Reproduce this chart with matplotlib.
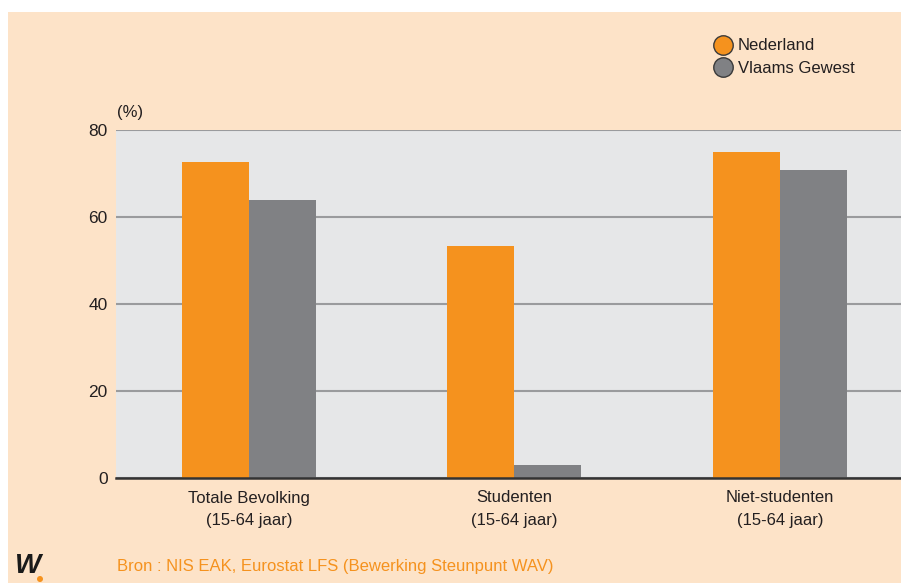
import matplotlib
matplotlib.use('Agg')
import matplotlib.pyplot as plt
from matplotlib.patches import Rectangle, Ellipse
from matplotlib.lines import Line2D
import numpy as np

plt.rcParams['font.family'] = ['Liberation Sans Narrow', 'Liberation Sans', 'DejaVu Sans']

categories = ['Totale Bevolking\n(15-64 jaar)', 'Studenten\n(15-64 jaar)', 'Niet-studenten\n(15-64 jaar)']
series_names = ['Nederland', 'Vlaams Gewest']
nederland = [72.6, 53.3, 74.9]
vlaams = [63.9, 3.0, 70.8]
yticks = [0, 20, 40, 60, 80]
source = 'Bron : NIS EAK, Eurostat LFS (Bewerking Steunpunt WAV)'

orange = '#F5921E'
grey = '#808184'
peach = '#FDE3C8'
dark = '#231F20'

fig = plt.figure(figsize=(9.01, 5.83), dpi=100)
fig.patch.set_facecolor('white')
fig.patches.append(Rectangle((8/901, 0), 1 - 8/901, 1 - 12/583, transform=fig.transFigure,
                             facecolor=peach, edgecolor='none', zorder=-10))

ax = fig.add_axes([116/901, 1 - 478/583, 1 - 116/901, (478 - 130)/583])
ax.set_facecolor('#E6E7E8')

x = np.arange(len(categories))
w = 0.252
ax.bar(x - w/2, nederland, w, color=orange, zorder=3)
ax.bar(x + w/2, vlaams, w, color=grey, zorder=3)

ax.set_ylim(0, 80)
ax.set_xlim(-0.5, (901 - 249)/265.5)
ax.set_yticks(yticks)
ax.set_xticks(x)
ax.set_xticklabels(categories, fontsize=12, color=dark, linespacing=1.65)
ax.tick_params(axis='y', length=0, labelsize=12.5, labelcolor=dark, pad=6)
ax.tick_params(axis='x', length=0, pad=9)
ax.grid(axis='y', color='#9A9B9D', linewidth=1.5, zorder=1)
for s in ['left', 'right', 'top']:
    ax.spines[s].set_visible(False)
ax.spines['bottom'].set_color('#333333')
ax.spines['bottom'].set_linewidth(1.8)
ax.spines['bottom'].set_zorder(4)

fig.text(117/901, 1 - 112/583, '(%)', fontsize=12, color=dark, va='center', ha='left')

handles = [Line2D([], [], marker='o', linestyle='none', markersize=14, markerfacecolor=c,
                  markeredgecolor='#3a3a3a', markeredgewidth=1) for c in [orange, grey]]
fig.legend(handles, series_names, loc='upper left', bbox_to_anchor=(703/901, 1 - 30/583),
           frameon=False, fontsize=12, handletextpad=0.2, labelspacing=0.45,
           borderpad=0, handlelength=1.4, labelcolor=dark)

fig.text(117/901, 1 - 566/583, source, fontsize=12, color=orange, va='center', ha='left')
fig.text(15/901, 1 - 566/583, 'W', fontsize=20, color='#1a1a1a', va='center', ha='left',
         fontstyle='italic', fontweight='bold')
fig.patches.append(Ellipse((40/901, 1 - 579/583), 6/901, 6/583, transform=fig.transFigure,
                           facecolor=orange, edgecolor='none'))

fig.savefig('out.png', dpi=100, facecolor=fig.get_facecolor())
